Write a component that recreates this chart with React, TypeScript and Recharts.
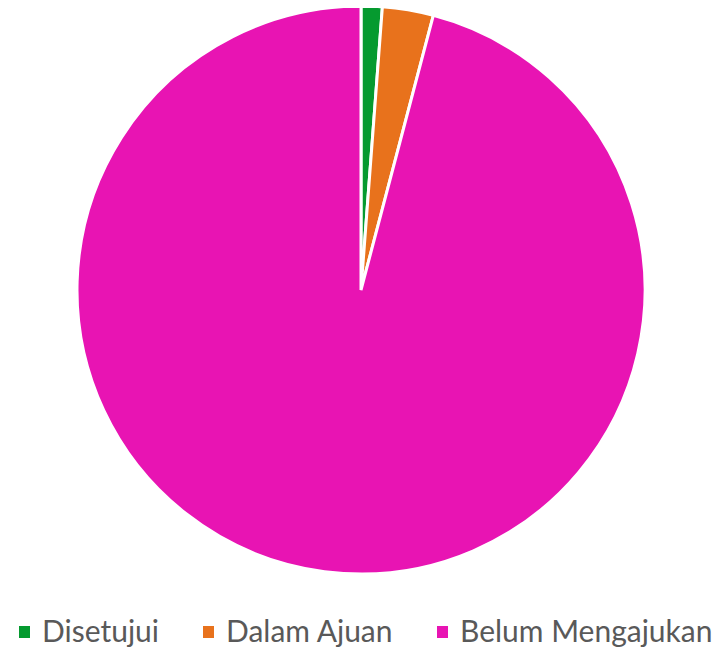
import { Cell, Pie, PieChart } from "recharts";

const categories = ["Disetujui", "Dalam Ajuan", "Belum Mengajukan"];
const values = [1.2, 2.9, 95.9];
const colors = ["#059a2f", "#e8721c", "#e814b3"];

const data = categories.map((name, i) => ({ name, value: values[i] }));

// legend item x offsets
const legendLeft = [19, 203, 437];

const ChartLegend = () => (
  <div style={{ position: "absolute", left: 0, top: 615, width: 723, height: 35 }}>
    {data.map((d, i) => (
      <div
        key={d.name}
        style={{
          position: "absolute",
          left: legendLeft[i],
          top: 0,
          display: "flex",
          alignItems: "center",
          fontFamily: "Lato, 'Open Sans', sans-serif",
          fontSize: 30,
          lineHeight: "30px",
          color: "#595959",
          whiteSpace: "nowrap",
        }}
      >
        <span
          style={{
            display: "inline-block",
            width: 11,
            height: 12,
            background: colors[i],
            marginRight: 12,
            marginTop: 4,
          }}
        />
        {d.name}
      </div>
    ))}
  </div>
);

export default function App() {
  return (
    <div
      style={{
        position: "relative",
        marginTop: -8,
        marginLeft: -8,
        width: 723,
        height: 650,
        background: "#fff",
        overflow: "hidden",
      }}
    >
      <PieChart width={723} height={650} margin={{ top: 0, right: 0, bottom: 0, left: 0 }}>
        <Pie
          data={data}
          dataKey="value"
          nameKey="name"
          cx={361}
          cy={290}
          outerRadius={284}
          startAngle={90}
          endAngle={-270}
          stroke="#fff"
          strokeWidth={3}
          isAnimationActive={false}
        >
          {data.map((d, i) => (
            <Cell key={d.name} fill={colors[i]} />
          ))}
        </Pie>
      </PieChart>
      <ChartLegend />
    </div>
  );
}
